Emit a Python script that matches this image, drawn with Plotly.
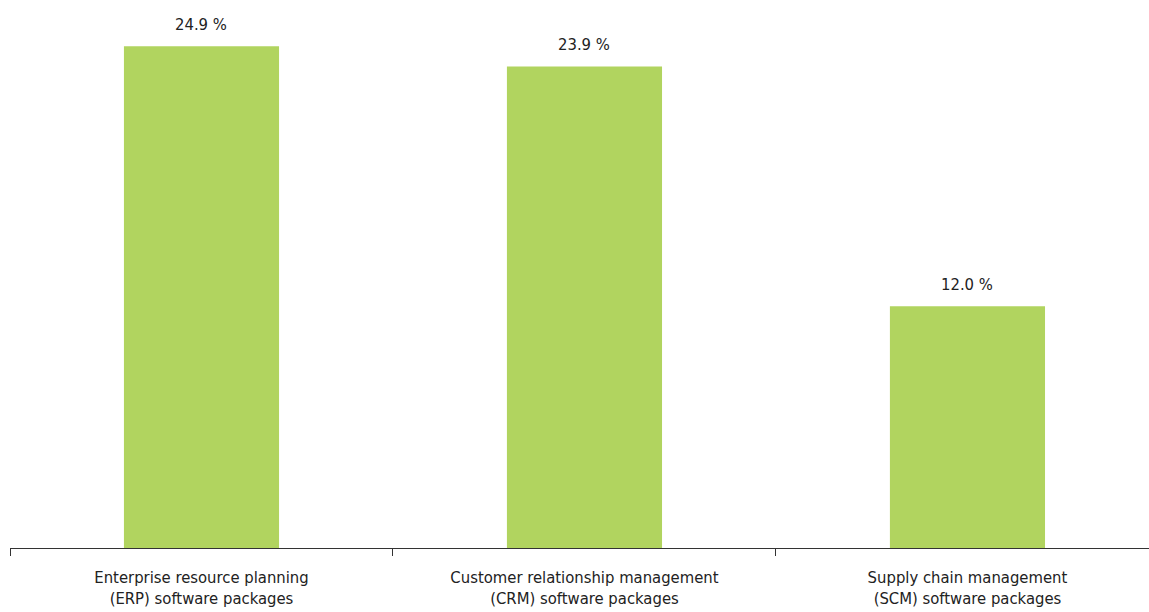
import plotly.graph_objects as go

categories = [
    "Enterprise resource planning<br>(ERP) software packages",
    "Customer relationship management<br>(CRM) software packages",
    "Supply chain management<br>(SCM) software packages",
]
values = [24.9, 23.9, 12.0]
value_labels = [f"{v:.1f} %" for v in values]

FONT = "DejaVu Sans Condensed, Roboto Condensed, Arial Narrow, sans-serif"
BAR_COLOR = "#b1d45f"
TEXT_COLOR = "#222222"

fig = go.Figure(
    go.Bar(
        x=categories,
        y=values,
        marker=dict(color=BAR_COLOR, line=dict(width=0)),
        width=0.405,
        hoverinfo="skip",
    )
)

for cat, v, lab in zip(categories, values, value_labels):
    fig.add_annotation(
        x=cat, y=v, text=lab, showarrow=False,
        yanchor="bottom", yshift=10,
        font=dict(family=FONT, size=16.5, color=TEXT_COLOR),
    )

fig.update_layout(
    width=1149, height=612,
    margin=dict(l=10, r=0, t=14, b=64),
    paper_bgcolor="white", plot_bgcolor="white",
    showlegend=False,
    font=dict(family=FONT, size=16.5, color=TEXT_COLOR),
    bargap=0.6,
)
fig.update_xaxes(
    type="category",
    range=[-0.5, 2.474],
    tickson="boundaries",
    ticks="outside", ticklen=7, tickwidth=1, tickcolor="#333333",
    ticklabelstandoff=14,
    showline=True, linecolor="#333333", linewidth=1,
    showgrid=False, zeroline=False,
    tickfont=dict(family=FONT, size=16.5, color=TEXT_COLOR),
)
fig.update_yaxes(
    range=[0, 26.5], visible=False, showgrid=False, zeroline=False,
)

fig.write_html("out.html")
